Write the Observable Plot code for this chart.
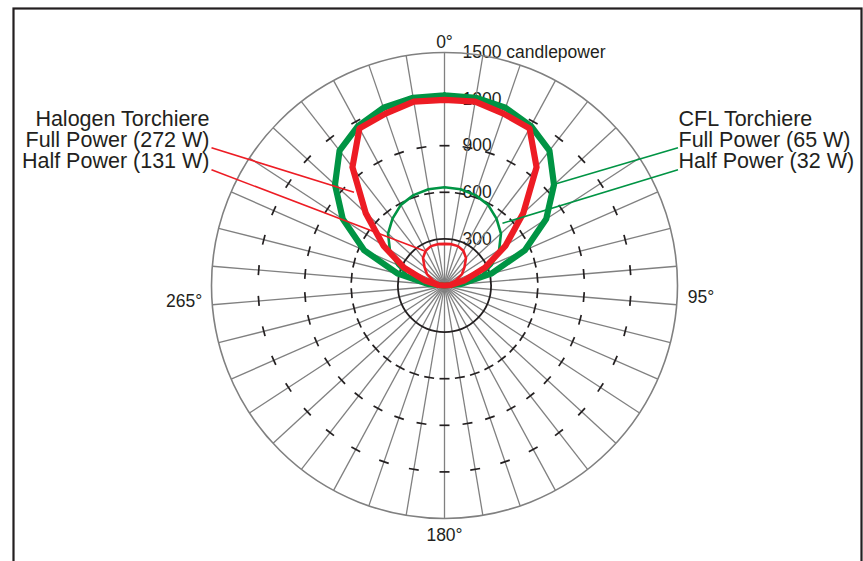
<!DOCTYPE html>
<html>
<head>
<meta charset="utf-8">
<script src="https://cdn.jsdelivr.net/npm/d3@7"></script>
<script src="https://cdn.jsdelivr.net/npm/@observablehq/plot@0.6"></script>
<style>
  html, body { margin: 0; padding: 0; background: #fff; overflow: hidden; }
  #chart svg { display: block; }
</style>
</head>
<body>
<div id="chart"></div>
<script>
// ---- Data (candlepower at each measured vertical angle, 0° = straight up) ----
const spokeCount = 38;                 // grid spokes around the full circle
const angleStep = 360 / spokeCount;    // ≈ 9.47°
// values at spokes k = 0..19 (0° .. 180°); the left half mirrors the right
const halogenFull = [1195, 1200, 1170, 1150, 965, 690, 470, 285, 130, 40, 0, 0, 0, 0, 0, 0, 0, 0, 0, 0];
const halogenHalf = [268, 270, 268, 255, 225, 175, 135, 80, 30, 5, 0, 0, 0, 0, 0, 0, 0, 0, 0, 0];
const cflFull     = [1225, 1225, 1210, 1168, 1100, 958, 782, 565, 310, 100, 0, 0, 0, 0, 0, 0, 0, 0, 0, 0];
const cflHalf     = [632, 628, 615, 590, 545, 494, 420, 333, 240, 90, 0, 0, 0, 0, 0, 0, 0, 0, 0, 0];

const rings = [300, 600, 900, 1200, 1500];
const ringLabels = ["300", "600", "900", "1200", "1500 candlepower"];
const tickRings = [600, 900, 1200];
const angleLabels = ["0°", "95°", "180°", "265°"];
const angleLabelSpokes = [0, 10, 19, 28];

const halogenLegend = ["Halogen Torchiere", "Full Power (272 W)", "Half Power (131 W)"];
const cflLegend = ["CFL Torchiere", "Full Power (65 W)", "Half Power (32 W)"];

// ---- Layout ----
const W = 863, H = 561;
const CX = 444, CY = 285, RMAX = 233;
const S = RMAX / 1500;                 // px per candlepower unit
const px = (x) => (x - CX) / S;        // pixel -> data helpers for annotations
const py = (y) => (CY - y) / S;

const RED = "#ed1c24", GREEN = "#009444", INK = "#231f20", GRAY = "#808080";
const FONT = "'Liberation Sans', Arial, Helvetica, sans-serif";

const rad = (deg) => deg * Math.PI / 180;
const spokes = d3.range(spokeCount).map(k => k * angleStep);

function polygon(series) {
  const pts = [];
  for (let k = 0; k <= spokeCount; ++k) {
    const idx = k <= 19 ? k : spokeCount - k;
    const v = series[idx];
    const a = rad(k * angleStep);
    pts.push({x: v * Math.sin(a), y: v * Math.cos(a)});
  }
  return pts;
}

const tickHalf = 5 / S;
const ticks = [];
for (const r of tickRings) for (const a of spokes) {
  const t = rad(a);
  const cx = r * Math.sin(t), cy = r * Math.cos(t);
  ticks.push({x1: cx - tickHalf * Math.cos(t), y1: cy + tickHalf * Math.sin(t),
              x2: cx + tickHalf * Math.cos(t), y2: cy - tickHalf * Math.sin(t)});
}

const leaders = [
  {x1: px(211), y1: py(147.3), x2: px(353.5), y2: py(191.8), c: RED},
  {x1: px(211), y1: py(169.3), x2: px(423.5), y2: py(250.2), c: RED},
  {x1: px(677.5), y1: py(147.3), x2: px(555.5), y2: py(183.3), c: GREEN},
  {x1: px(677.5), y1: py(169.3), x2: px(502), y2: py(222.8), c: GREEN}
];

const angleLabelData = angleLabels.map((label, i) => {
  const a = rad(angleLabelSpokes[i] * angleStep);
  return {label, x: 1500 * Math.sin(a), y: 1500 * Math.cos(a)};
});

const chart = Plot.plot({
  width: W, height: H,
  marginLeft: 0, marginRight: 0, marginTop: 0, marginBottom: 0,
  style: {fontFamily: FONT, background: "#fff", overflow: "visible"},
  x: {axis: null, domain: [px(0), px(W)]},
  y: {axis: null, domain: [py(H), py(0)]},
  r: {type: "linear", domain: [0, 1500], range: [0, RMAX]},
  marks: [
    Plot.frame({stroke: INK, strokeWidth: 2.2, insetLeft: 13, insetTop: 8, insetRight: 2, insetBottom: -30}),
    // radial value labels
    Plot.text(rings, {x: 0, y: d => d, text: (d, i) => ringLabels[i], dx: 18, textAnchor: "start",
      lineAnchor: "middle", fontSize: 17.5, fill: INK}),
    // spokes
    Plot.link(spokes, {x1: 0, y1: 0, x2: a => 1500 * Math.sin(rad(a)), y2: a => 1500 * Math.cos(rad(a)),
      stroke: GRAY, strokeWidth: 1.3}),
    // outer ring and 300 ring
    Plot.dot([1500], {x: 0, y: 0, r: d => d, stroke: GRAY, strokeWidth: 1.6, fill: "none"}),
    Plot.dot([300], {x: 0, y: 0, r: d => d, stroke: INK, strokeWidth: 1.8, fill: "none"}),
    // tick rings
    Plot.link(ticks, {x1: "x1", y1: "y1", x2: "x2", y2: "y2", stroke: INK, strokeWidth: 1.7, strokeLinecap: "butt"}),
    // curves
    Plot.line(polygon(cflHalf), {x: "x", y: "y", stroke: GREEN, strokeWidth: 2.6}),
    Plot.line(polygon(halogenHalf), {x: "x", y: "y", stroke: RED, strokeWidth: 2.6}),
    Plot.line(polygon(cflFull), {x: "x", y: "y", stroke: GREEN, strokeWidth: 6.2}),
    Plot.line(polygon(halogenFull), {x: "x", y: "y", stroke: RED, strokeWidth: 6.2}),
    // leader lines
    Plot.link(leaders, {x1: "x1", y1: "y1", x2: "x2", y2: "y2", stroke: "c", strokeWidth: 1.6}),
    // angle labels
    Plot.text([angleLabelData[0]], {x: "x", y: "y", text: "label", dy: -5, lineAnchor: "bottom", textAnchor: "middle", fontSize: 17.5, fill: INK}),
    Plot.text([angleLabelData[2]], {x: "x", y: "y", text: "label", dy: 22, lineAnchor: "bottom", textAnchor: "middle", fontSize: 17.5, fill: INK}),
    Plot.text([angleLabelData[1]], {x: "x", y: "y", text: "label", dx: 11, dy: -2, lineAnchor: "bottom", textAnchor: "start", fontSize: 17.5, fill: INK}),
    Plot.text([angleLabelData[3]], {x: "x", y: "y", text: "label", dx: -10, dy: 2, lineAnchor: "bottom", textAnchor: "end", fontSize: 17.5, fill: INK}),
    // legends
    Plot.text([halogenLegend.join("\n")], {frameAnchor: "top-left", dx: 209, dy: 167, textAnchor: "end",
      lineAnchor: "bottom", lineHeight: 0.955, fontSize: 21.5, fill: INK}),
    Plot.text([cflLegend.join("\n")], {frameAnchor: "top-left", dx: 678, dy: 167, textAnchor: "start",
      lineAnchor: "bottom", lineHeight: 0.955, fontSize: 21.5, fill: INK})
  ]
});
document.getElementById("chart").append(chart);
</script>
</body>
</html>
